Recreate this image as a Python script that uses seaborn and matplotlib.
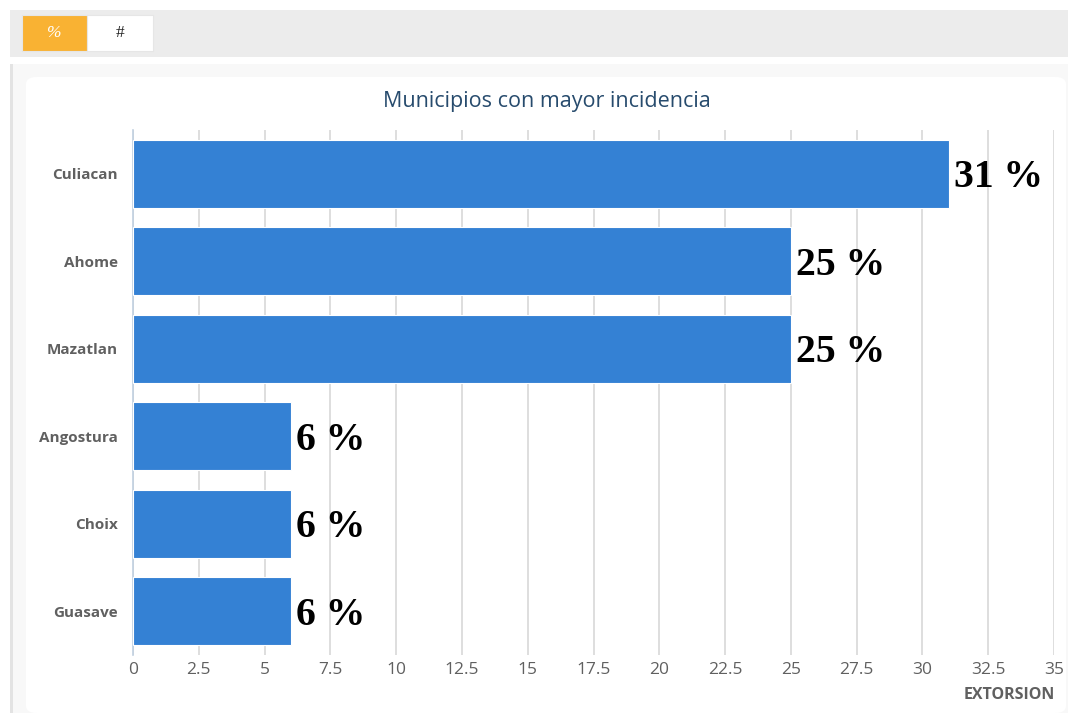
import matplotlib
matplotlib.use("Agg")
import matplotlib.pyplot as plt
import seaborn as sns
import pandas as pd
from matplotlib.patches import Rectangle, FancyBboxPatch

# Data
municipios = ["Culiacan", "Ahome", "Mazatlan", "Angostura", "Choix", "Guasave"]
porcentajes = [31, 25, 25, 6, 6, 6]
x_ticks = [0, 2.5, 5, 7.5, 10, 12.5, 15, 17.5, 20, 22.5, 25, 27.5, 30, 32.5, 35]
titulo = "Municipios con mayor incidencia"
eje_x = "EXTORSION"

df = pd.DataFrame({"Municipio": municipios, "Porcentaje": porcentajes})

sns.set_style("white")
plt.rcParams["font.family"] = ["Open Sans", "DejaVu Sans"]

W, H = 1068, 713
fig = plt.figure(figsize=(W / 100, H / 100), dpi=100)
fig.patch.set_facecolor("white")

# page background pieces (pixel coords -> figure fraction)
def px_rect(x0, y0, x1, y1, **kw):
    return Rectangle((x0 / W, 1 - y1 / H), (x1 - x0) / W, (y1 - y0) / H,
                     transform=fig.transFigure, **kw)

fig.patches.append(px_rect(10, 10, 1068, 57, facecolor="#ececec", edgecolor="none", zorder=0))
fig.patches.append(px_rect(22, 15, 87, 51, facecolor="#f9b233", edgecolor="#e6e6e6", lw=0.8, zorder=1))
fig.patches.append(px_rect(87, 15, 153, 51, facecolor="white", edgecolor="#e6e6e6", lw=0.8, zorder=1))
fig.text(54 / W, 1 - 33 / H, "%", ha="center", va="center", color="white",
         family="Liberation Serif", style="italic", fontsize=12.5)
fig.text(120 / W, 1 - 33 / H, "#", ha="center", va="center", color="#222222",
         family="Liberation Serif", fontsize=12.5)
fig.patches.append(px_rect(10, 64, 1068, 713, facecolor="#f8f8f8", edgecolor="none", zorder=0))
fig.patches.append(px_rect(10, 64, 13, 713, facecolor="#e3e3e3", edgecolor="none", zorder=0))
fig.patches.append(FancyBboxPatch((26 / W, 0), (1066 - 26) / W, 1 - 77 / H,
                                  boxstyle="round,pad=0,rounding_size=0.01",
                                  transform=fig.transFigure, facecolor="white",
                                  edgecolor="none", zorder=0))

ax = fig.add_axes([133 / W, 1 - 655 / H, (1054 - 133) / W, (655 - 130) / H])
ax.set_facecolor("none")
ax.set_zorder(3)

sns.barplot(data=df, y="Municipio", x="Porcentaje", orient="h", color="#3481d4",
            saturation=1, width=0.78, ax=ax, zorder=3)
for p in ax.patches:
    p.set_edgecolor("white")
    p.set_linewidth(0.8)

ax.set_xlim(0, 35)
ax.set_ylim(5.5, -0.5)
ax.set_xticks(x_ticks)
ax.set_xticklabels([f"{t:g}" for t in x_ticks], color="#606060", fontsize=12.5)
ax.tick_params(axis="x", length=0, pad=5)
ax.grid(axis="x", color="#d8d8d8", lw=1.2, zorder=0)
ax.grid(axis="y", visible=False)

ax.set_yticks(range(len(municipios)))
ax.set_yticklabels(municipios, color="#606060", fontsize=11, fontweight="bold")
ax.tick_params(axis="y", length=0, pad=11)
# small ticks at category boundaries
ax.set_yticks([i - 0.5 for i in range(len(municipios) + 1)], minor=True)
ax.tick_params(axis="y", which="minor", length=7, width=1, color="#c0d0e0")

for s in ["top", "right", "bottom"]:
    ax.spines[s].set_visible(False)
ax.spines["left"].set_color("#c0d0e0")
ax.spines["left"].set_linewidth(1.2)

ax.set_ylabel("")
ax.set_xlabel("")

for i, v in enumerate(porcentajes):
    ax.annotate(f"{v} %", (v, i), xytext=(3.5, -3), textcoords="offset points",
                ha="left", va="center", fontsize=28.5, fontweight="bold",
                family="Liberation Serif", color="black", zorder=5)

fig.text(547 / W, 1 - 102 / H, titulo, ha="center", va="center",
         color="#274b6d", fontsize=15.5)
fig.text(1055 / W, 1 - 695 / H, eje_x, ha="right", va="center",
         color="#606060", fontsize=11.5, fontweight="bold")

fig.savefig("out.png", dpi=100)
